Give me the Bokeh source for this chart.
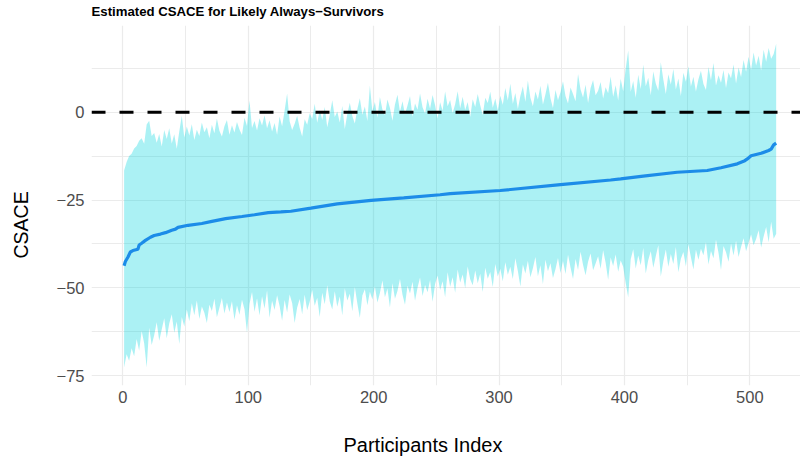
from bokeh.plotting import figure
from bokeh.models import Range1d, FixedTicker, Span, Title, LinearAxis
from bokeh.embed import file_html
from bokeh.resources import INLINE

# ---------------- data ----------------
participant_index = list(range(1, 522, 2))

upper = [
    -16.6, -14.2, -12.5, -11.8, -10.3,
    -9.6, -8.1, -7.4, -9.0, -3.5,
    -2.4, -6.8, -5.9, -8.7, -6.2,
    -9.8, -5.1, -7.6, -4.6, -8.9,
    -6.3, -10.4, -5.5, -1.0, -7.2,
    -4.1, -6.6, -3.4, -7.9, -5.0,
    -6.8, -2.9, -5.7, -4.3, -7.4,
    -3.6, -6.0, -1.8, -5.3, -6.9,
    -4.0, -2.2, -6.4, -3.7, -5.8,
    -2.8, -4.9, -6.5, -1.6, -3.9,
    3.3, -4.5, -2.5, -5.2, -1.7,
    -3.8, -0.9, -4.6, -2.3, -5.5,
    -3.1, -6.4, -1.2, -4.0, 0.5,
    5.3, -2.6, -5.1, -3.3, -1.0,
    -4.4, -6.9, -2.0, -3.6, -0.3,
    -1.9, 2.4, -3.0, 0.6, -2.2,
    1.5, -4.3, -0.8, 3.4, -1.4,
    0.2, -2.9, 1.8, -4.8, -0.5,
    2.7, -1.1, -3.2, 0.9, 4.0,
    -0.7, 1.6, -2.5, 7.6, 0.3,
    2.9, -1.6, 4.3, 0.8, -0.9,
    3.6, 1.2, -2.4, 2.2, 5.0,
    0.1, 3.1, -0.6, 1.9, 4.6,
    -1.3, 2.5, 0.7, 5.3, 1.4,
    -0.4, 3.8, 1.0, 4.9, 2.0,
    -1.8, 2.8, 0.4, 5.9, 1.7,
    3.5, -0.2, 2.3, 6.0, 1.1,
    4.4, 0.6, 2.9, -1.4, 3.7,
    1.5, 5.2, 2.0, -0.8, 4.1,
    2.6, 5.8, 1.3, 3.9, 0.5,
    4.7, 2.1, 6.9, 3.3, 8.1,
    2.4, 5.5, 0.9, 4.6, 7.3,
    3.0, 9.0, 4.1, 1.7, 5.9,
    3.6, 7.5, 2.2, 5.1, 8.4,
    4.0, 1.2, 6.3, 3.4, 5.7,
    8.8, 4.6, 2.5, 7.0, 5.2,
    3.1, 10.9, 6.5, 4.2, 7.8,
    2.6, 6.9, 9.2, 4.8, 6.1,
    8.6, 3.9, 7.1, 5.4, 10.2,
    4.4, 7.7, 3.3, 9.5, 6.0,
    12.4, 17.6, 5.8, 8.9, 4.1,
    10.7, 6.6, 13.5, 7.4, 9.8,
    4.8, 11.6, 8.2, 6.1, 14.2,
    9.3, 5.2, 10.8, 7.9, 12.3,
    6.5, 9.6, 4.6, 11.2, 8.7,
    13.1, 7.3, 10.1, 5.9, 9.4,
    11.8, 8.0, 6.3, 12.9, 9.1,
    14.0, 7.6, 10.5, 8.4, 12.0,
    6.9, 11.3, 9.7, 13.6, 8.2,
    12.7, 10.0, 14.9, 11.5, 15.8,
    12.1, 17.0, 13.3, 16.1, 11.9,
    17.8, 14.4, 18.3, 15.2, 16.6,
    19.5,
]

lower = [
    -72.7, -68.9, -70.8, -67.2, -69.5,
    -64.6, -67.9, -62.3, -65.8, -72.7,
    -61.4, -66.3, -63.5, -59.8, -65.1,
    -61.9, -58.7, -64.4, -60.2, -57.5,
    -62.8, -59.6, -66.0, -58.3, -61.0,
    -56.2, -59.5, -54.4, -57.8, -53.6,
    -58.9, -55.3, -57.1, -60.0, -54.8,
    -56.6, -53.1, -58.4, -55.7, -52.9,
    -57.3, -54.2, -56.9, -53.8, -59.1,
    -55.0, -57.7, -53.4, -56.1, -62.7,
    -54.6, -51.2, -56.8, -53.0, -57.9,
    -52.4, -55.9, -50.8, -58.5, -53.7,
    -56.3, -52.1, -55.2, -59.4, -53.5,
    -57.0, -51.9, -54.3, -60.0, -55.6,
    -53.2, -57.5, -52.0, -56.4, -54.0,
    -50.6, -55.1, -52.8, -58.3, -51.4,
    -54.7, -49.3, -53.9, -56.2, -51.0,
    -55.4, -52.5, -57.8, -50.1, -53.6,
    -51.7, -56.7, -49.8, -54.5, -58.5,
    -52.2, -50.4, -55.0, -51.1, -53.3,
    -49.6, -54.2, -51.5, -47.9, -52.7,
    -50.2, -55.6, -48.7, -53.1, -50.9,
    -47.5, -52.0, -54.8, -49.4, -51.6,
    -48.3, -53.7, -50.0, -47.1, -52.3,
    -49.2, -51.3, -47.8, -54.0, -48.9,
    -46.5, -50.6, -48.1, -52.7, -45.6,
    -49.7, -47.0, -51.4, -44.8, -48.5,
    -46.2, -50.1, -43.9, -47.6, -49.3,
    -45.1, -48.7, -46.0, -51.2, -44.3,
    -47.4, -45.5, -49.8, -43.2, -46.8,
    -44.6, -48.1, -42.7, -46.3, -44.0,
    -47.5, -41.6, -45.2, -49.6, -43.4,
    -45.9, -42.3, -47.0, -44.4, -41.2,
    -46.7, -43.6, -48.9, -42.0, -45.3,
    -43.0, -47.2, -44.7, -41.5, -45.8,
    -42.4, -46.1, -40.6, -44.2, -47.5,
    -41.8, -44.9, -39.7, -43.5, -46.4,
    -42.6, -40.2, -45.0, -43.1, -41.0,
    -44.6, -39.3, -42.9, -47.7, -41.4,
    -43.8, -40.5, -45.4, -42.2, -44.0,
    -48.6, -52.7, -41.9, -39.0, -44.5,
    -40.8, -43.6, -38.7, -45.9, -42.1,
    -39.6, -44.3, -41.0, -37.9, -46.8,
    -42.5, -39.1, -44.0, -40.4, -43.2,
    -38.4, -45.6, -41.7, -39.8, -43.9,
    -37.6, -41.3, -44.8, -39.2, -42.0,
    -38.9, -40.7, -37.0, -43.4, -39.5,
    -41.6, -36.3, -40.0, -44.9, -38.1,
    -39.9, -42.6, -37.4, -40.8, -36.6,
    -41.2, -38.4, -35.9, -39.6, -37.2,
    -34.8, -37.9, -36.1, -33.6, -38.5,
    -35.4, -32.7, -37.0, -31.2, -36.0,
    -34.6,
]

est_index = [1, 2, 4, 6, 8, 12, 13, 15, 18, 22, 25, 30, 34, 39, 42, 44, 52, 63,
             71, 82, 95, 105, 116, 126, 134, 150, 171, 198, 224, 253, 261, 301,
             349, 389, 397, 415, 442, 466, 477, 490, 496, 498, 501, 509, 515,
             517, 519, 521]
est_value = [-43.7, -42.5, -41.3, -39.8, -39.4, -39.0, -37.8, -37.3, -36.5, -35.6,
             -35.1, -34.7, -34.3, -33.6, -33.3, -32.8, -32.2, -31.7, -31.1, -30.3,
             -29.7, -29.2, -28.6, -28.4, -28.2, -27.3, -26.1, -25.1, -24.4, -23.5,
             -23.2, -22.3, -20.6, -19.3, -19.0, -18.2, -17.1, -16.6, -15.8, -14.7,
             -13.8, -13.3, -12.4, -11.7, -10.9, -10.5, -9.3, -8.8]

x_ticks = [0, 100, 200, 300, 400, 500]
x_minor = [50, 150, 250, 350, 450]
y_ticks = [-75, -50, -25, 0]
y_minor = [-62.5, -37.5, -12.5, 12.5]
y_tick_labels = {-75: "\u221275", -50: "\u221250", -25: "\u221225", 0: "0"}

title_text = "Estimated CSACE for Likely Always\u2212Survivors"
x_title = "Participants Index"
y_title = "CSACE"

assert len(upper) == len(participant_index) == len(lower)
assert len(est_index) == len(est_value)

# ---------------- figure ----------------
x_start, x_end = -25.0, 540.4
y_start, y_end = -77.82, 24.69

FONT = "Liberation Sans"

p = figure(width=800, height=461, output_backend="svg", toolbar_location=None,
           x_range=Range1d(x_start, x_end), y_range=Range1d(y_start, y_end),
           min_border_left=91, min_border_right=0, min_border_top=25,
           min_border_bottom=76)
p.outline_line_color = None
p.background_fill_color = "white"
p.border_fill_color = "white"

# main title
p.title.text = title_text
p.title.align = "left"
p.title.vertical_align = "top"
p.title.text_font = FONT
p.title.text_font_style = "bold"
p.title.text_font_size = "13.2px"
p.title.text_color = "black"
p.title.standoff = 7.5

# axes
for ax, maj, mnr in ((p.xaxis, x_ticks, x_minor), (p.yaxis, y_ticks, y_minor)):
    ax.ticker = FixedTicker(ticks=maj, minor_ticks=mnr)
    ax.axis_line_color = None
    ax.major_tick_line_color = None
    ax.minor_tick_line_color = None
    ax.major_tick_out = 0
    ax.major_tick_in = 0
    ax.minor_tick_out = 0
    ax.minor_tick_in = 0
    ax.major_label_text_font = FONT
    ax.major_label_text_font_size = "16.5px"
    ax.major_label_text_color = "#4D4D4D"

p.xaxis.major_label_standoff = 5
p.yaxis.major_label_standoff = 7
p.yaxis.major_label_overrides = y_tick_labels


def spacer_axis(extent, tick):
    """An invisible axis (one hidden tick, blank label) that only reserves
    space between the tick labels and the axis titles."""
    return LinearAxis(ticker=FixedTicker(ticks=[tick], minor_ticks=[]),
                      axis_line_color=None,
                      major_tick_line_color=None, minor_tick_line_color=None,
                      major_tick_out=extent, major_tick_in=0,
                      minor_tick_out=0, minor_tick_in=0,
                      major_label_standoff=0,
                      major_label_text_font_size="1px",
                      major_label_overrides={tick: ""})


p.add_layout(spacer_axis(24, x_ticks[0]), "below")
p.add_layout(spacer_axis(19, y_ticks[-1]), "left")

# axis titles (as panel titles so they can be placed like the reference)
p.add_layout(Title(text=x_title, align="left", vertical_align="bottom",
                   offset=252, standoff=4,
                   text_font=FONT, text_font_style="normal",
                   text_font_size="20px", text_color="black"), "below")
p.add_layout(Title(text=y_title, align="left", vertical_align="top",
                   offset=127, standoff=2,
                   text_font=FONT, text_font_style="normal",
                   text_font_size="19.5px", text_color="black"), "left")

for g in (p.xgrid, p.ygrid):
    g.grid_line_color = "#EBEBEB"
    g.grid_line_width = 1.2
    g.minor_grid_line_color = "#EBEBEB"
    g.minor_grid_line_width = 1.0

# ribbon + estimate line
p.varea(x=participant_index, y1=lower, y2=upper,
        fill_color="#00D5DD", fill_alpha=0.33)
p.line(est_index, est_value, line_color="#1C8CE8", line_width=3.2)

p.add_layout(Span(location=0, dimension="width", line_color="black",
                  line_width=3, line_dash="14 14"))

open("out.html", "w").write(file_html(p, INLINE))
